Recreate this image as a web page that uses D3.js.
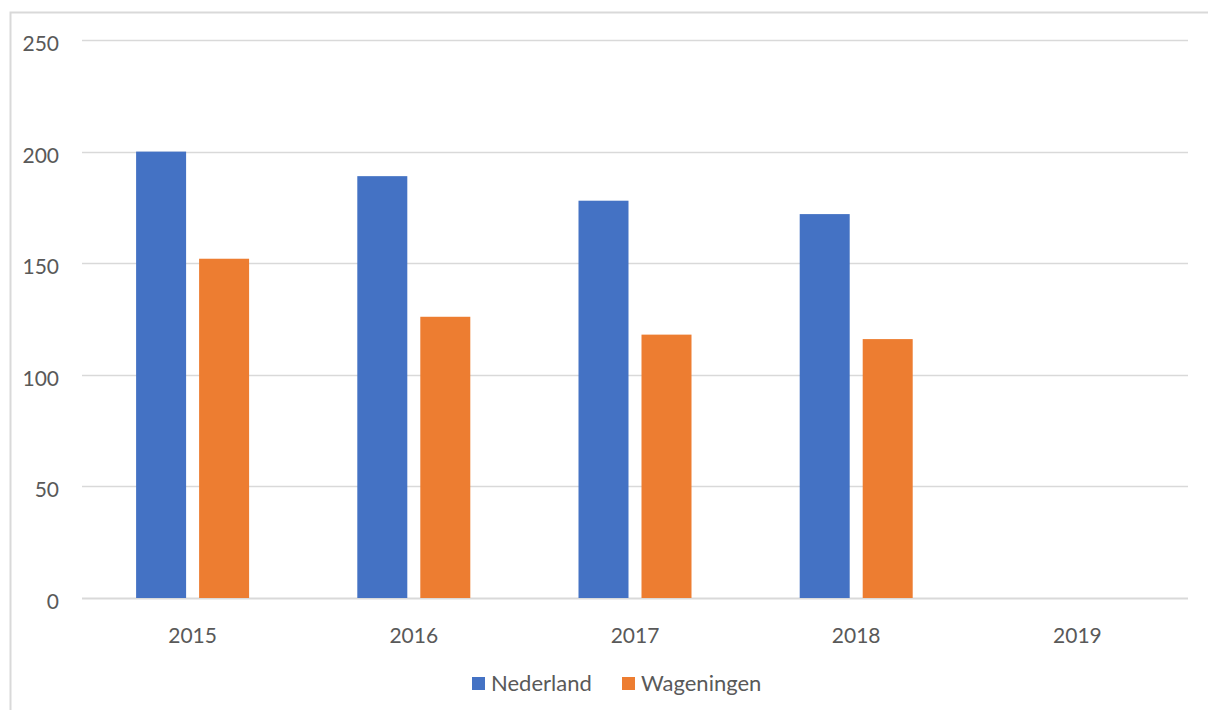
<!DOCTYPE html>
<html>
<head>
<meta charset="utf-8">
<script src="https://cdn.jsdelivr.net/npm/d3@7"></script>
<style>
  body { margin: 0; background: #fff; }
  text { font-family: Lato, "Open Sans", sans-serif; fill: #595959; }
</style>
</head>
<body>
<div class="container"></div>
<script>
(function(){
  const years = ['2015', '2016', '2017', '2018', '2019'];
  const seriesNames = ['Nederland', 'Wageningen'];
  const nederland = [200, 189, 178, 172, null];
  const wageningen = [152, 126, 118, 116, null];
  const yTicks = [0, 50, 100, 150, 200, 250];
  const colors = ['#4472C4', '#ED7D31'];

  const config = {w: 1208, h: 710, left: 82, right: 1188, top: 40, bottom: 598};

  const svg = d3.select('.container').append('svg')
    .attr('width', config.w)
    .attr('height', config.h);

  // outer chart frame (cropped on right and bottom)
  svg.append('rect')
    .attr('x', 10.5).attr('y', 12.5)
    .attr('width', 1300).attr('height', 800)
    .attr('fill', 'none')
    .attr('stroke', '#d9d9d9')
    .attr('stroke-width', 2);

  const x = d3.scaleBand()
    .domain(years)
    .range([config.left, config.right]);

  const y = d3.scaleLinear()
    .domain([0, 250])
    .range([config.bottom, config.top]);

  // gridlines
  svg.append('g')
    .selectAll('line')
    .data(yTicks)
    .enter().append('line')
      .attr('x1', config.left)
      .attr('x2', config.right)
      .attr('y1', d => Math.round(y(d)) + 0.5)
      .attr('y2', d => Math.round(y(d)) + 0.5)
      .attr('stroke', '#d9d9d9')
      .attr('stroke-width', d => d === 0 ? 2 : 1.5);

  // y labels
  svg.append('g')
    .selectAll('text')
    .data(yTicks)
    .enter().append('text')
      .attr('x', 59)
      .attr('y', d => y(d) + 11)
      .attr('text-anchor', 'end')
      .attr('font-size', 21)
      .text(d => d);

  // bars
  const barW = 50, gap = 13;
  const data = [nederland, wageningen];
  data.forEach((vals, s) => {
    svg.append('g')
      .selectAll('rect')
      .data(years.map((yr, i) => ({yr, v: vals[i]})).filter(d => d.v != null))
      .enter().append('rect')
        .attr('x', d => x(d.yr) + x.bandwidth() / 2 + (s === 0 ? -gap / 2 - barW : gap / 2))
        .attr('y', d => y(d.v))
        .attr('width', barW)
        .attr('height', d => y(0) - y(d.v))
        .attr('fill', colors[s]);
  });

  // x labels
  svg.append('g')
    .selectAll('text')
    .data(years)
    .enter().append('text')
      .attr('x', d => x(d) + x.bandwidth() / 2)
      .attr('y', 643)
      .attr('text-anchor', 'middle')
      .attr('font-size', 21)
      .text(d => d);

  // legend
  const legendX = [472, 622];
  const legend = svg.append('g');
  seriesNames.forEach((name, i) => {
    legend.append('rect')
      .attr('x', legendX[i]).attr('y', 677)
      .attr('width', 13).attr('height', 13)
      .attr('fill', colors[i]);
    legend.append('text')
      .attr('x', legendX[i] + 19)
      .attr('y', 691)
      .attr('font-size', 22)
      .text(name);
  });
})();
</script>
</body>
</html>
